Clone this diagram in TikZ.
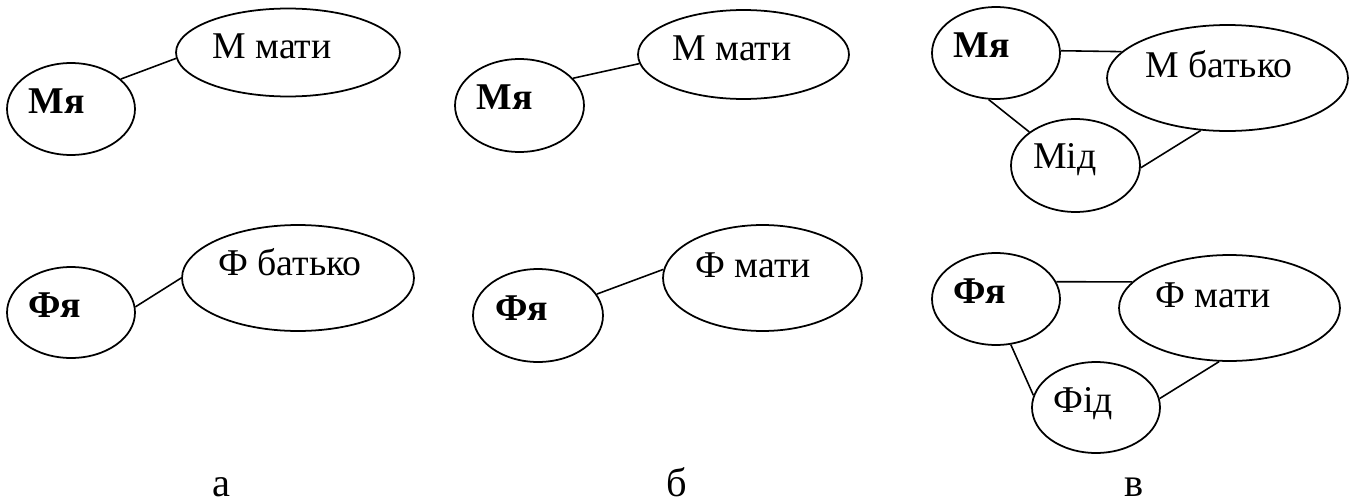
\documentclass[tikz,border=0pt]{standalone}
\usepackage{fontspec}
\setmainfont{Liberation Serif}
\usetikzlibrary{shapes.geometric}

\begin{document}
\begin{tikzpicture}[x=0.02cm,y=-0.02cm,
  oval/.style={ellipse,draw,line width=1pt,inner sep=0pt},
  txt/.style={anchor=base west,inner sep=0pt,font=\fontsize{21.5}{26}\selectfont},
  link/.style={line width=0.9pt}]
\useasboundingbox (0,0) rectangle (1357,504);

% a
\node[oval,minimum width=2.56cm,minimum height=1.84cm] (MyaA) at (71,109) {};
\node[oval,minimum width=4.48cm,minimum height=1.76cm] (MmatA) at (288,52.5) {};
\node[oval,minimum width=2.56cm,minimum height=1.82cm] (FyaA) at (71,312.5) {};
\node[oval,minimum width=4.64cm,minimum height=2.12cm] (FbatA) at (298,278) {};
\node[txt] (MyaAt) at (28,113) {\textbf{Мя}};
\node[txt] (MmatAt) at (212,58) {М мати};
\node[txt] (FyaAt) at (28,317) {\textbf{Фя}};
\node[txt] (FbatAt) at (218,275) {Ф батько};
\draw[link] (MyaA.31) -- (MmatA.183);
\draw[link] (FyaA.5) -- (FbatA.180);

% b
\node[oval,minimum width=2.58cm,minimum height=1.86cm] (MyaB) at (519.5,105.5) {};
\node[oval,minimum width=4.22cm,minimum height=1.78cm] (MmatB) at (743.5,54.5) {};
\node[oval,minimum width=2.60cm,minimum height=1.86cm] (FyaB) at (538,315.5) {};
\node[oval,minimum width=3.98cm,minimum height=2.12cm] (FmatB) at (762.5,278) {};
\node[txt] (MyaBt) at (476,109) {\textbf{Мя}};
\node[txt] (MmatBt) at (672,60) {М мати};
\node[txt] (FyaBt) at (495,320) {\textbf{Фя}};
\node[txt] (FmatBt) at (695,277) {Ф мати};
\draw[link] (MyaB.27) -- (MmatB.185);
\draw[link] (FyaB.20) -- (FmatB.175);

% c
\node[oval,minimum width=2.56cm,minimum height=1.84cm] (MyaC) at (996,53) {};
\node[oval,minimum width=4.82cm,minimum height=2.12cm] (MbatC) at (1227.5,78) {};
\node[oval,minimum width=2.58cm,minimum height=1.86cm] (MidC) at (1075.5,165.5) {};
\node[oval,minimum width=2.56cm,minimum height=1.84cm] (FyaC) at (996,299) {};
\node[oval,minimum width=4.42cm,minimum height=2.12cm] (FmatC) at (1229.5,308) {};
\node[oval,minimum width=2.56cm,minimum height=1.82cm] (FidC) at (1096,407.5) {};
\node[txt] (MyaCt) at (953,57) {\textbf{Мя}};
\node[txt] (MbatCt) at (1145,77) {М батько};
\node[txt] (MidCt) at (1033,168) {Мід};
\node[txt] (FyaCt) at (953,303) {\textbf{Фя}};
\node[txt] (FmatCt) at (1155,307) {Ф мати};
\node[txt] (FidCt) at (1053,412) {Фід};
\draw[link] (MyaC.2) -- (MbatC.166);
\draw[link] (MyaC.261) -- (MidC.144);
\draw[link] (MidC.358) -- (MbatC.243);
\draw[link] (FyaC.16) -- (FmatC.165);
\draw[link] (FyaC.288) -- (FidC.169);
\draw[link] (FidC.8) -- (FmatC.259);

% captions
\node[txt,anchor=base,font=\fontsize{23}{27}\selectfont] (capA) at (221,496) {а};
\node[txt,anchor=base,font=\fontsize{23}{27}\selectfont] (capB) at (677,496) {б};
\node[txt,anchor=base,font=\fontsize{23}{27}\selectfont] (capC) at (1134,496) {в};

\end{tikzpicture}
\end{document}
